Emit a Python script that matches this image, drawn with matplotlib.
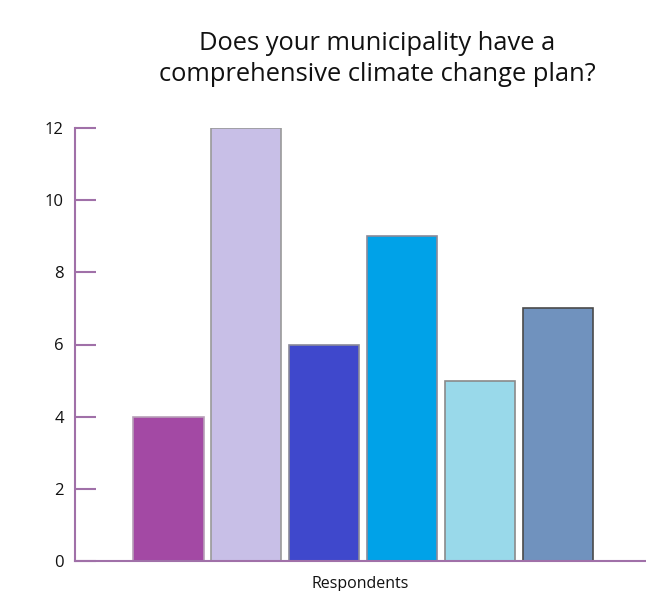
import matplotlib.pyplot as plt

# Survey answers, one bar per response group
groups = ['A', 'B', 'C', 'D', 'E', 'F']
counts = [4, 12, 6, 9, 5, 7]
colors = ['#A349A4', '#C8BFE7', '#3F48CC', '#00A2E8', '#99D9EA', '#7092BE']
edges = ['#b8a0b8', '#9a9a9a', '#8a8a9a', '#8a8a9a', '#8a8a8a', '#4a4a4a']
yticks = [0, 2, 4, 6, 8, 10, 12]

plt.rcParams['font.family'] = ['Open Sans', 'DejaVu Sans']

fig = plt.figure(figsize=(6.46, 5.91), dpi=100)
ax = fig.add_axes([75 / 646, 30 / 591, 570 / 646, 433 / 591])

x = list(range(len(groups)))
ax.bar(x, counts, width=0.9, color=colors, edgecolor=edges, linewidth=1.2, zorder=2)

ax.set_xlim(-1.2, 6.115)
ax.set_ylim(0, 12)
ax.set_yticks(yticks)
ax.set_xticks([])

spine_col = '#a070a8'
for side in ['top', 'right']:
    ax.spines[side].set_visible(False)
ax.spines['left'].set_color(spine_col)
ax.spines['bottom'].set_color(spine_col)
ax.spines['left'].set_linewidth(1.5)
ax.spines['bottom'].set_linewidth(1.5)
ax.tick_params(axis='y', direction='in', length=15, width=1.5, color=spine_col,
               labelsize=12, pad=8, labelcolor='#111111')

ax.set_xlabel('Respondents', fontsize=11.5, labelpad=11, color='#111111')

fig.text(377 / 646, 1 - 59 / 591,
         'Does your municipality have a\ncomprehensive climate change plan?',
         ha='center', va='center', fontsize=18.4, linespacing=1.35, color='#111111')

fig.savefig('out.png', dpi=100)
